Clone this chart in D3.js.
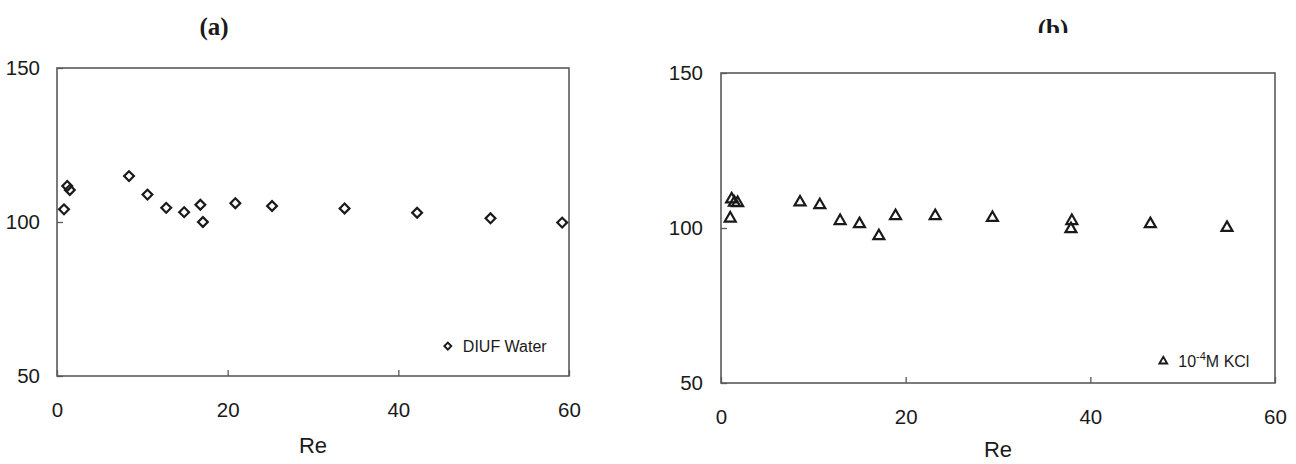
<html>
<head>
<script src="https://d3js.org/d3.v7.min.js"></script>
<style>
body{margin:0;background:#fff}
svg text{font-family:"Liberation Sans",Arial,Helvetica,sans-serif;fill:#1a1a1a}
</style>
</head>
<body>
<svg width="1296" height="464"></svg>
<script>
// panel (a): DIUF water
const reA=[0.82,1.2,1.5,8.44,10.6,12.8,14.9,16.8,17.1,20.9,25.2,33.7,42.2,50.8,59.2]
const valA=[104.1,111.7,110.4,114.9,108.9,104.6,103.2,105.6,100.0,106.1,105.2,104.4,103.0,101.2,99.8]
// panel (b): 10^-4 M KCl
const reB=[1.0,1.15,1.45,1.8,8.56,10.7,12.9,15.0,17.1,18.9,23.2,29.4,38.0,37.9,46.5,54.8]
const valB=[103.1,109.3,108.2,108.1,108.3,107.4,102.3,101.3,97.4,103.9,103.9,103.3,102.3,99.7,101.3,100.1]

const xTicks=[0,20,40,60]
const yTicks=[50,100,150]

const svg=d3.select("svg")

function panel(o){
  const xs=d3.scaleLinear().domain([0,60]).range([o.left,o.right])
  const ys=d3.scaleLinear().domain([50,150]).range([o.bottom,o.top])
  const g=svg.append("g")

  // frame
  g.append("rect").attr("x",o.left).attr("y",o.top)
    .attr("width",o.right-o.left).attr("height",o.bottom-o.top)
    .attr("fill","none").attr("stroke","#5a5a5a").attr("stroke-width",1.6)

  const xa=d3.axisBottom(xs).tickValues(xTicks).tickSizeInner(-6).tickSizeOuter(0).tickPadding(26)
  const ya=d3.axisLeft(ys).tickValues(yTicks).tickSizeInner(-6).tickSizeOuter(0).tickPadding(o.ypad)

  const gx=g.append("g").attr("transform","translate(0,"+o.bottom+")").call(xa)
  const gy=g.append("g").attr("transform","translate("+o.left+",0)").call(ya)
  for(const a of [gx,gy]){
    a.select(".domain").remove()
    a.selectAll("line").attr("stroke","#5a5a5a").attr("stroke-width",1.3)
    a.selectAll("text").attr("font-size",20.5).attr("fill","#1a1a1a")
      .style("font-family","'Liberation Sans',Arial,sans-serif")
  }

  g.append("text").attr("x",(o.left+o.right)/2).attr("y",o.reY)
    .attr("text-anchor","middle").attr("font-size",22).text("Re")

  // title
  const t=g.append("text").attr("x",o.titleX).attr("y",o.titleY)
    .attr("text-anchor","middle").attr("font-size",25).attr("font-weight","bold")
    .style("font-family","'Liberation Serif','Times New Roman',serif").text(o.title)
  if(o.clip){
    svg.append("clipPath").attr("id","clipb")
      .append("rect").attr("x",0).attr("y",0).attr("width",1296).attr("height",o.clip)
    t.attr("clip-path","url(#clipb)")
  }

  const sym=d3.symbol().type(o.shape).size(o.size)
  g.selectAll("path.pt").data(o.re).join("path").attr("class","pt")
    .attr("d",sym)
    .attr("transform",(d,i)=>"translate("+xs(d)+","+ys(o.val[i])+")"+(o.rot?" rotate(45)":""))
    .attr("fill","none").attr("stroke","#1a1a1a").attr("stroke-width",2.2)

  // legend
  const lg=g.append("g").attr("transform","translate("+xs(o.legRe)+","+ys(o.legVal)+")")
  lg.append("path").attr("d",d3.symbol().type(o.shape).size(o.size*0.5))
    .attr("transform",o.rot?"rotate(45)":null)
    .attr("fill","none").attr("stroke","#1a1a1a").attr("stroke-width",1.9)
  o.legText(lg.append("text").attr("x",15).attr("y",5.5).attr("font-size",16))
}

panel({left:57,right:569,top:68,bottom:376,ypad:17,re:reA,val:valA,reY:453,
  shape:d3.symbolSquare,rot:true,size:48,title:"(a)",titleX:214,titleY:35,
  legRe:45.8,legVal:59.7,legText:t=>t.text("DIUF Water")})

panel({left:721,right:1275,top:73,bottom:383,ypad:18,re:reB,val:valB,reY:457,
  shape:d3.symbolTriangle,rot:false,size:52,title:"(b)",titleX:1053,titleY:37,clip:33,
  legRe:47.9,legVal:57.0,legText:t=>{
    t.append("tspan").text("10")
    t.append("tspan").attr("dy",-7).attr("font-size",11).text("-4")
    t.append("tspan").attr("dy",7).text("M KCl")
  }})
</script>
</body>
</html>
